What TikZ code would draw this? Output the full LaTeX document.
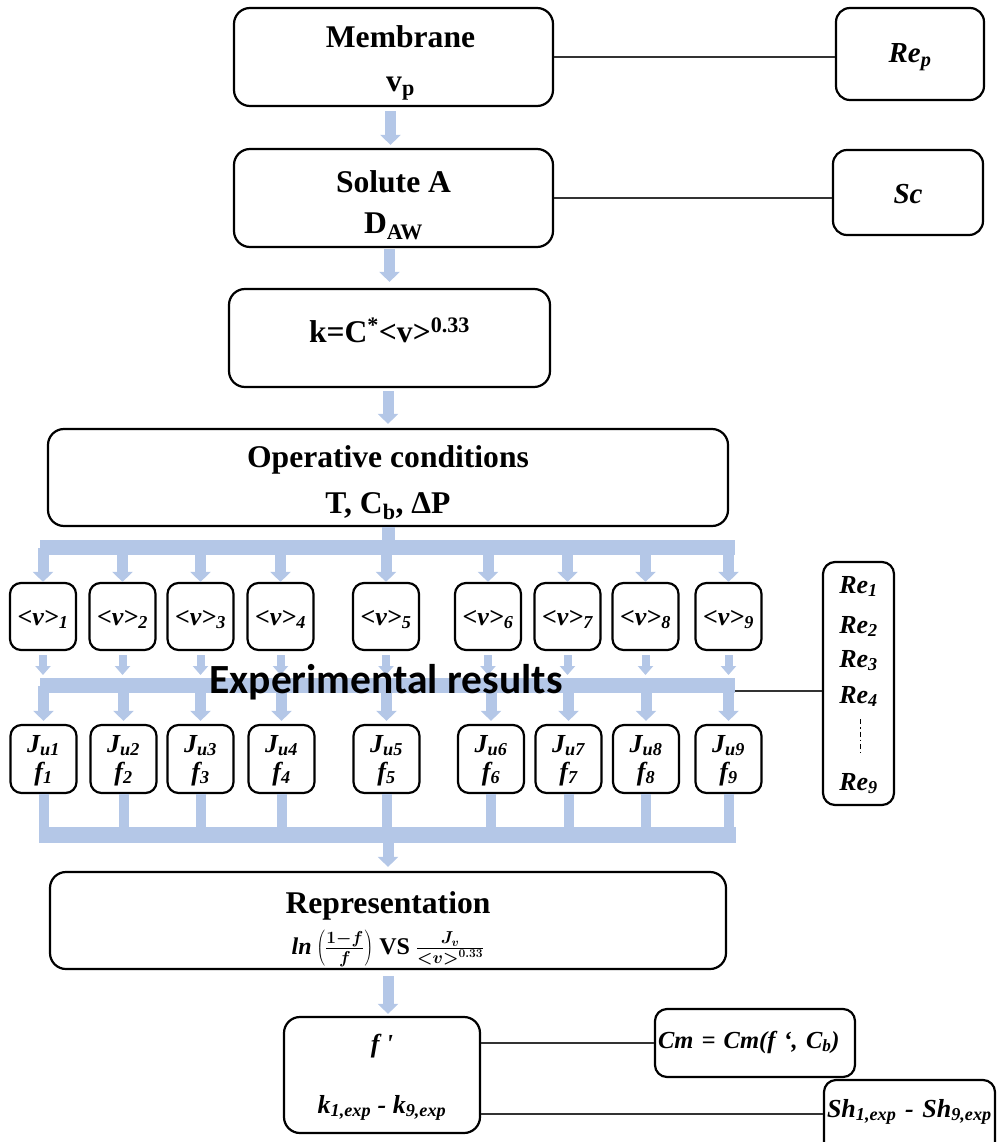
\documentclass[tikz,border=0pt]{standalone}
\usepackage{fontspec}
\setmainfont{Liberation Serif}
\newfontfamily\calib{Carlito}
\usetikzlibrary{arrows.meta,calc}
\definecolor{arrowblue}{HTML}{B4C7E7}
\begin{document}
\begin{tikzpicture}[x=1pt,y=-1pt,
  mainbox/.style={draw, line width=2.2pt, rounded corners=16pt, inner sep=0pt, align=center},
  smallbox/.style={draw, line width=2.2pt, rounded corners=11pt, inner sep=0pt, align=center, minimum width=66pt},
  titlefont/.style={font=\bfseries\fontsize{31.6pt}{#1pt}\selectfont},
  bifont/.style={font=\bfseries\itshape\fontsize{#1pt}{#1pt}\selectfont},
  bifontskip/.style={font=\bfseries\itshape\fontsize{26pt}{#1pt}\selectfont},
  bigarr/.style={draw=arrowblue, color=arrowblue, line width=11pt, -{Triangle[width=20pt,length=10pt]}},
  smallarr/.style={draw=arrowblue, color=arrowblue, line width=8pt, -{Triangle[width=15pt,length=9pt]}},
  bus/.style={draw=arrowblue, line width=15pt},
  stub/.style={draw=arrowblue, line width=10pt},
  conn/.style={draw=black!80, line width=1.4pt},
  dashline/.style={draw=black, line width=1pt, dash pattern=on 5pt off 3pt on 1.5pt off 3pt}
]
\lineskiplimit=-200pt\relax
\useasboundingbox (0,0) rectangle (997,1142);

% main column
\node[mainbox, titlefont=44, minimum width=319pt] (mem) at (393.5,57)
  {\rule{0pt}{40pt}\hspace*{14pt}Membrane\\\hspace*{14pt}v\textsubscript{p}\rule[-14pt]{0pt}{14pt}};
\node[mainbox, titlefont=40, minimum width=319pt] (sol) at (393.5,198)
  {\rule{0pt}{44pt}Solute A\\D\textsubscript{AW}\rule[-14pt]{0pt}{14pt}};
\node[mainbox, titlefont=40, minimum width=321pt] (kbox) at (389.5,338)
  {\rule{0pt}{53pt}k=C\textsuperscript{*}<v>\textsuperscript{0.33}\rule[-45pt]{0pt}{45pt}};
\node[mainbox, titlefont=46, minimum width=680pt] (opc) at (388,477.5)
  {\rule{0pt}{38pt}Operative conditions\\T, C\textsubscript{b}, ΔP\rule[-13pt]{0pt}{13pt}};
\node[mainbox, titlefont=41, minimum width=676pt] (repr) at (388,920.5)
  {\rule{0pt}{41pt}Representation\\{\fontsize{24pt}{24pt}\selectfont\mathversion{bold}$\mathit{ln}\left(\frac{1-f}{f}\right)$ VS $\frac{J_v}{{<}v{>}^{0.33}}$}\rule[-15pt]{0pt}{15pt}};

% side boxes
\node[mainbox, rounded corners=14pt, minimum width=148pt, bifont=29] (rep) at (910,54)
  {\rule{0pt}{55pt}Re\textsubscript{p}\rule[-37pt]{0pt}{37pt}};
\node[mainbox, rounded corners=14pt, minimum width=150pt, bifont=29] (sc) at (908,192.5)
  {\rule{0pt}{53pt}Sc\rule[-32pt]{0pt}{32pt}};

% v and J boxes
\foreach \i/\x/\xx in {1/43/43.5,2/122.5/123.5,3/200.5/200.5,4/280.5/281.5,5/386/386.5,6/488/491,7/567.5/568.5,8/645.5/646,9/728.5/728.5}{
  \node[smallbox, bifont=26] (v\i) at (\x,616.5)
    {\rule{0pt}{42pt}<v>\textsubscript{\i}\rule[-25pt]{0pt}{25pt}};
  \node[smallbox, bifontskip=28] (J\i) at (\xx,759)
    {\rule{0pt}{27pt}J\textsubscript{u\i}\\f\textsubscript{\i}\rule[-13pt]{0pt}{13pt}};
}

% Re column
\node[draw, line width=2.2pt, rounded corners=12pt, minimum width=71pt, minimum height=243pt, inner sep=0pt] (recol) at (858.5,683.5) {};
\node[bifont=26, anchor=base] (re1) at (858.5,593) {Re\textsubscript{1}};
\node[bifont=26, anchor=base] (re2) at (858.5,633) {Re\textsubscript{2}};
\node[bifont=26, anchor=base] (re3) at (858.5,667) {Re\textsubscript{3}};
\node[bifont=26, anchor=base] (re4) at (858.5,703) {Re\textsubscript{4}};
\node[bifont=26, anchor=base] (re9) at (858.5,790) {Re\textsubscript{9}};
\draw[dashline] ([xshift=1.5pt,yshift=-16pt]re4.base) -- ([xshift=1.5pt,yshift=37pt]re9.base);

% bottom boxes
\node[mainbox, minimum width=196pt, bifontskip=61] (fp) at (382,1075)
  {\rule{0pt}{35pt}f \textquotesingle\\k\textsubscript{1,exp} - k\textsubscript{9,exp}\rule[-20pt]{0pt}{20pt}};
\node[draw, line width=2.2pt, rounded corners=12pt, inner xsep=3pt, inner ysep=0pt, text width=194pt, align=left, bifont=24.5] (cm) at (755,1043)
  {\noindent\rule{0pt}{39pt}Cm = Cm(f ‘, C\textsubscript{b})\rule[-29pt]{0pt}{29pt}};
\node[draw, line width=2.2pt, rounded corners=12pt, inner xsep=3pt, inner ysep=0pt, text width=165pt, align=left, bifont=26] (sh) at (909.5,1125)
  {\noindent\rule{0pt}{37pt}Sh\textsubscript{1,exp} - Sh\textsubscript{9,exp}\rule[-53pt]{0pt}{53pt}};

% bus coordinates
\coordinate (busAL) at (40,547.5);
\coordinate (busAR) at (735,547.5);
\coordinate (busBL) at (40,685.5);
\coordinate (busBR) at (735,685.5);
\coordinate (busBtop) at (0,675);
\coordinate (busBend) at (735,691);
\coordinate (busCL) at (39,835);
\coordinate (busCR) at (736,835);

% central arrows
\draw[bigarr] ([xshift=-3pt,yshift=-4pt]mem.south) -- ([xshift=-3pt,yshift=3pt]sol.north);
\draw[bigarr] ([yshift=-1pt]sol.south -| kbox.north) -- ([yshift=6pt]kbox.north);
\draw[bigarr] ([yshift=-3pt]kbox.south -| opc.north) -- ([yshift=4pt]opc.north);
\draw[bigarr] ([yshift=-6pt]repr.south) -- ([yshift=2pt]repr.south |- fp.north);

% distribution buses
\draw[stub, line width=13pt] (opc.south) -- (opc.south |- busAL);
\draw[bus] (busAL) -- (busAR);
\draw[bus] (busBL) -- (busBR);
\draw[bus, line width=16pt] (busCL) -- (busCR);
\foreach \i in {1,...,9}{
  \draw[bigarr] (v\i.north |- busAL) -- (v\i.north);
  \draw[smallarr] ([yshift=-4pt]v\i.south) -- (v\i.south |- busBtop);
  \draw[bigarr] (J\i.north |- busBL) -- ([yshift=3pt]J\i.north);
  \draw[stub] (J\i.south) -- (J\i.south |- busCL);
}
\draw[bigarr] (repr.north |- busCL) -- ([yshift=4pt]repr.north);

% connectors
\draw[conn] (mem.east) -- (mem.east -| rep.west);
\draw[conn] (sol.east) -- (sol.east -| sc.west);
\draw[conn] (busBend) -- (busBend -| recol.west);
\draw[conn] (fp.east |- cm.west) -- (cm.west);
\coordinate (fpk) at ($(fp.south east)+(0,-20)$);
\draw[conn] (fpk) -- (fpk -| sh.west);

% overlay title
\node[font=\calib\bfseries\fontsize{41.5pt}{41.5pt}\selectfont, anchor=base, inner sep=0pt] (exptext) at (386,693) {Experimental results};
\end{tikzpicture}
\end{document}
